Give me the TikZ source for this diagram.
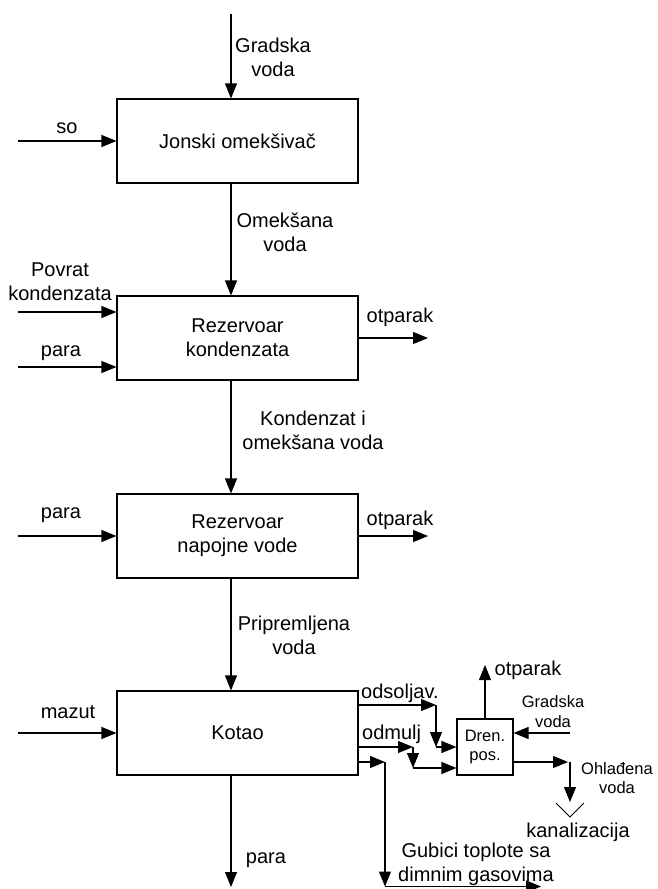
\documentclass[tikz,border=0pt]{standalone}
\usepackage{fontspec}
\setmainfont{Liberation Sans}
\usepackage{tikz}
\usetikzlibrary{arrows.meta, positioning, calc}

% veličine slova
\newcommand{\krupno}{\fontsize{20}{24}\selectfont}
\newcommand{\sitno}{\fontsize{16.5}{19.5}\selectfont}

\tikzset{
    blok/.style={draw, line width=1.1pt, minimum width=241pt, minimum height=84pt,
        inner sep=0pt, align=center, font=\krupno},
    tok/.style={-{Triangle[length=15pt, width=12pt]}, line width=1.1pt},
    natpis/.style={inner sep=0pt, align=center, font=\krupno},
    sitnatpis/.style={inner sep=0pt, align=center, font=\sitno}
}

\begin{document}
\begin{tikzpicture}[x=1pt, y=-1pt]
        \clip (0,0) rectangle (657,889);

        % Glavna osa sa blokovima
        \coordinate (osa) at (231,14);
        \node[blok] (omeksivac) at (237.5,141) {Jonski omekšivač};
        \node[blok] (rezkond) at (237.5,338) {Rezervoar\\kondenzata};
        \node[blok] (rezvode) at (237.5,536) {Rezervoar\\napojne vode};
        \node[blok] (kotao) at (237.5,733) {Kotao};
        \node[blok, font=\sitno, minimum width=56pt, minimum height=56pt] (dren) at (485,747) {Dren.\\pos.};

        % 1. Tok vode kroz blokove
        \draw[tok] (osa) -- (osa |- omeksivac.north);
        \draw[tok] (omeksivac.south -| osa) -- (rezkond.north -| osa);
        \draw[tok] (rezkond.south -| osa) -- (rezvode.north -| osa);
        \draw[tok] (rezvode.south -| osa) -- (kotao.north -| osa);
        \coordinate (paraizlaz) at (231,887);
        \draw[tok] (kotao.south -| osa) -- (paraizlaz);

        \node[natpis] (lbl_gradska) at (273,57.5) {Gradska\\voda};
        \node[natpis] (lbl_omeksana) at (285,232) {Omekšana\\voda};
        \node[natpis] (lbl_kondenzat) at (313,430) {Kondenzat i\\omekšana voda};
        \node[natpis] (lbl_pripremljena) at (294,635) {Pripremljena\\voda};
        \node[natpis] (lbl_para4) at (266,860) {para};

        % 2. Ulazi sa leve strane
        \coordinate (so) at (18,141);
        \coordinate (povrat) at (18,312);
        \coordinate (para2) at (18,367);
        \coordinate (para3) at (18,536);
        \coordinate (mazut) at (18,733);
        \draw[tok] (so) -- (so -| omeksivac.west);
        \draw[tok] (povrat) -- (povrat -| rezkond.west);
        \draw[tok] (para2) -- (para2 -| rezkond.west);
        \draw[tok] (para3) -- (para3 -| rezvode.west);
        \draw[tok] (mazut) -- (mazut -| kotao.west);

        \node[natpis] (lbl_so) at (67,128) {so};
        \node[natpis] (lbl_povrat) at (60,281.5) {Povrat\\kondenzata};
        \node[natpis] (lbl_para2) at (61,353) {para};
        \node[natpis] (lbl_para3) at (61,515) {para};
        \node[natpis] (lbl_mazut) at (68,712) {mazut};

        % 3. Otparak iz rezervoara
        \coordinate (otp2) at (428,338);
        \coordinate (otp3) at (428,536);
        \draw[tok] (rezkond.east) -- (otp2);
        \draw[tok] (rezvode.east) -- (otp3);
        \node[natpis] (lbl_otp2) at (400,317) {otparak};
        \node[natpis] (lbl_otp3) at (400,520) {otparak};

        % 4. Izlazi iz kotla prema drenažnom posudu
        % odsoljavanje
        \coordinate (ods1) at (358,705);
        \coordinate (ods2) at (436,705);
        \coordinate (ods3) at (436,747);
        \draw[tok] (ods1) -- (ods2);
        \draw[tok] (ods2) -- (ods3);
        \draw[tok] (ods3) -- (dren.west);
        \node[natpis, anchor=west] (lbl_ods) at (361,693) {odsoljav.};

        % odmuljivanje
        \coordinate (odm1) at (358,747);
        \coordinate (odm2) at (413,747);
        \coordinate (odm3) at (413,768);
        \draw[tok] (odm1) -- (odm2);
        \draw[tok] (odm2) -- (odm3);
        \draw[tok] (odm3) -- (odm3 -| dren.west);
        \node[natpis, anchor=west] (lbl_odm) at (362,734) {odmulj};

        % gubici sa dimnim gasovima
        \coordinate (gub1) at (358,762);
        \coordinate (gub2) at (385,762);
        \coordinate (gub3) at (385,886.5);
        \coordinate (gub4) at (541,886.5);
        \draw[tok] (gub1) -- (gub2);
        \draw[tok] (gub2) -- (gub3);
        \draw[tok] (gub3) -- (gub4);
        \node[natpis] (lbl_gubici) at (476,864.5) {Gubici toplote sa\\dimnim gasovima};

        % 5. Drenažni posud
        \coordinate (otpdren) at (485,665);
        \draw[tok] (dren.north) -- (otpdren);
        \node[natpis] (lbl_otpdren) at (528,670) {otparak};

        \coordinate (gradska2) at (570,733);
        \draw[tok] (gradska2) -- (gradska2 -| dren.east);
        \node[sitnatpis] (lbl_gradska2) at (553,711.5) {Gradska\\voda};

        \coordinate (ohl1) at (568,762);
        \coordinate (ohl2) at (570,762);
        \coordinate (ohl3) at (570,802);
        \draw[tok] (ohl1 -| dren.east) -- (ohl1);
        \draw[tok] (ohl2) -- (ohl3);
        \node[sitnatpis] (lbl_ohl) at (617,778) {Ohlađena\\voda};

        % kanalizacija
        \draw[line width=0.8pt] (556,803) -- (570,817) -- (584,803);
        \node[natpis] (lbl_kanal) at (578,832) {kanalizacija};

    \end{tikzpicture}
\end{document}
